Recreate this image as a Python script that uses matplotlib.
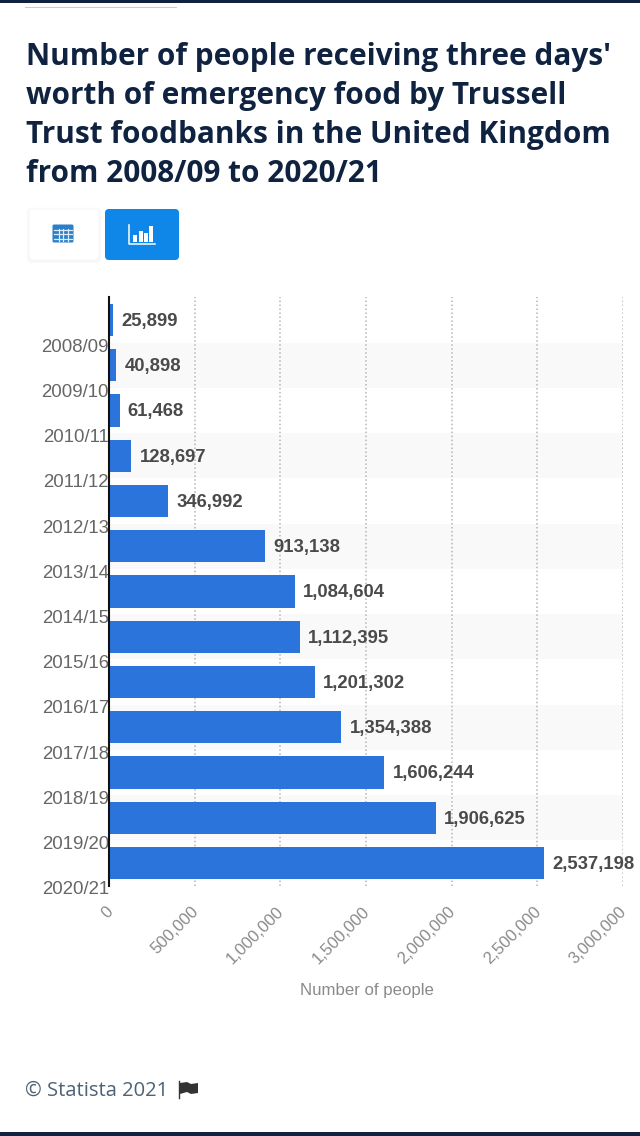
import matplotlib
matplotlib.use("Agg")
import matplotlib.pyplot as plt
from matplotlib.patches import FancyBboxPatch, Rectangle, Polygon
from matplotlib.transforms import ScaledTranslation
import numpy as np

title_lines = ["Number of people receiving three days'",
               "worth of emergency food by Trussell",
               "Trust foodbanks in the United Kingdom",
               "from 2008/09 to 2020/21"]
years = ["2008/09", "2009/10", "2010/11", "2011/12", "2012/13", "2013/14", "2014/15",
         "2015/16", "2016/17", "2017/18", "2018/19", "2019/20", "2020/21"]
people = [25899, 40898, 61468, 128697, 346992, 913138, 1084604,
          1112395, 1201302, 1354388, 1606244, 1906625, 2537198]
xticks = [0, 500000, 1000000, 1500000, 2000000, 2500000, 3000000]
xlabel = "Number of people"
credit = "© Statista 2021"

W, H = 640, 1136
NAVY = "#0f2341"
BAR = "#2b74dc"
fig = plt.figure(figsize=(W / 100, H / 100), dpi=100, facecolor="white")

# page furniture, in pixel coordinates
bg = fig.add_axes([0, 0, 1, 1])
bg.set_xlim(0, W); bg.set_ylim(H, 0); bg.axis("off")
bg.add_patch(Rectangle((0, 0), W, 3, color=NAVY, lw=0))
bg.add_patch(Rectangle((0, 1132), W, 4, color=NAVY, lw=0))
bg.add_patch(Rectangle((25, 6.5), 152, 1.5, color="#cccccc", lw=0))
for i, line in enumerate(title_lines):
    bg.text(26, 56.5 + i * 39.1, line, family="Open Sans", weight="bold", fontsize=21.45,
            color=NAVY, va="center", ha="left")

# toggle buttons
for off, a in zip([3, 2, 1], [0.006, 0.01, 0.015]):
    bg.add_patch(FancyBboxPatch((29 - off, 209 - off + 1), 70 + 2 * off, 51 + 2 * off,
                                boxstyle="round,pad=0,rounding_size=5", fc="black", ec="none", alpha=a))
bg.add_patch(FancyBboxPatch((29, 209), 70, 51, boxstyle="round,pad=0,rounding_size=4",
                            fc="white", ec="#f6f6f6", lw=0.6))
bg.add_patch(FancyBboxPatch((105, 209), 74, 51, boxstyle="round,pad=0,rounding_size=4",
                            fc="#0f87e8", ec="none"))
bg.add_patch(FancyBboxPatch((52.5, 224.5), 21, 18, boxstyle="round,pad=0,rounding_size=1.5",
                            fc="#2a7fc8", ec="none"))
for yy in [229.5, 234, 238.5]:
    bg.plot([54, 72], [yy, yy], color="#dcebf7", lw=0.9)
for xx in [59, 63, 68]:
    bg.plot([xx, xx], [229, 241], color="#dcebf7", lw=0.9)
bg.plot([128.5, 128.5, 155], [225, 244, 244], color="white", lw=1.1)
for xx, top in zip([135, 140.5, 145.5, 150.5], [235, 231, 233, 226]):
    bg.add_patch(Rectangle((xx - 2, top), 4, 241.5 - top, color="white", lw=0))

# footer
bg.text(25, 1091, credit, family="Open Sans", fontsize=14.5, color="#4d6275", va="center", ha="left")
bg.plot([178.5, 178.5], [1081, 1098], color="#333333", lw=1)
bg.add_patch(Polygon([(180, 1083), (187, 1082), (191, 1084), (198, 1083), (198, 1093),
                      (191, 1094), (187, 1092), (180, 1094)], fc="#333333", ec="none"))

# chart
L, R, T, B = 109, 623, 297.4, 885.6
ax = fig.add_axes([L / W, 1 - B / H, (R - L) / W, (B - T) / H])
ax.patch.set_alpha(0)
pos = np.arange(len(years))
for i in pos[1::2]:
    ax.axhspan(i - 0.5, i + 0.5, color="#f9f9f9", lw=0, zorder=0)
ax.grid(axis="x", color="#b5b5b5", ls=(0, (1, 1.6)), lw=1.1, zorder=1)
ax.set_axisbelow(True)
ax.barh(pos, people, height=0.71, color=BAR, zorder=2)
for i, v in zip(pos, people):
    ax.annotate(f"{v:,}", (v, i), xytext=(6, -1), textcoords="offset points",
                family="Liberation Sans", weight="bold", fontsize=13.3, color="#4a4a4a",
                va="center", ha="left", clip_on=False, zorder=4)

for s in ["top", "right", "bottom"]:
    ax.spines[s].set_visible(False)
ax.spines["left"].set_color("#111111")
ax.spines["left"].set_linewidth(1.5)
ax.spines["left"].set_zorder(5)

ax.set_yticks(pos)
ax.set_yticklabels(years, family="Liberation Sans", fontsize=13.4, color="#666666", ha="right", va="center")
ax.tick_params(axis="y", length=0, pad=0)
ax.set_xticks(xticks)
ax.set_xticklabels([f"{v:,}" for v in xticks], family="Liberation Sans", fontsize=12, color="#8a8a8a",
                   rotation=45, ha="right", va="top", rotation_mode="anchor")
ax.tick_params(axis="x", length=0, pad=13)
ax.set_xlim(0, xticks[-1])
ax.set_ylim(len(years) - 0.5, -0.5)

# the category labels sit below their bars, the value labels left of their gridlines
yshift = ScaledTranslation(0, -27 / 100, fig.dpi_scale_trans)
for lab in ax.get_yticklabels():
    lab.set_transform(lab.get_transform() + yshift)
xshift = ScaledTranslation(-4 / 100, 0, fig.dpi_scale_trans)
for lab in ax.get_xticklabels():
    lab.set_transform(lab.get_transform() + xshift)

ax.set_xlabel(xlabel, family="Liberation Sans", fontsize=12.1, color="#8a8a8a", labelpad=0)
ax.xaxis.set_label_coords((367 - L) / (R - L), -(990 - B) / (B - T), transform=ax.transAxes)
ax.xaxis.label.set_va("center")

fig.savefig("out.png", dpi=100)
